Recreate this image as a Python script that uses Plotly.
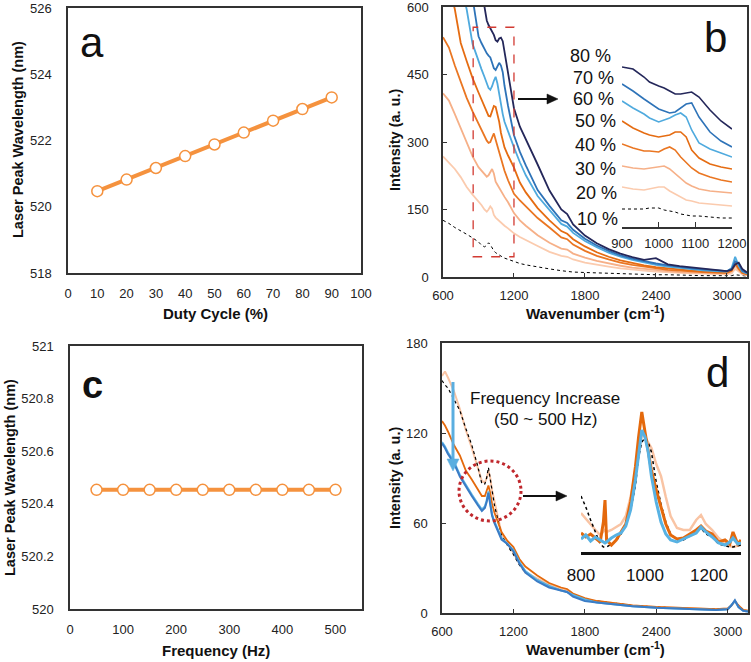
import plotly.graph_objects as go

W, H = 751, 662

# ---------- panel a ----------
duty_cycle = [10, 20, 30, 40, 50, 60, 70, 80, 90]
peak_wl_duty = [520.47, 520.82, 521.17, 521.53, 521.88, 522.24, 522.60, 522.95, 523.30]

# ---------- panel c ----------
frequency = [50, 100, 150, 200, 250, 300, 350, 400, 450, 500]
peak_wl_freq = [520.453] * 10

# ---------- panel b (main) ----------
b_wn = [600, 650, 700, 750, 800, 850, 900, 925, 950, 970, 985, 1000, 1015, 1030, 1045, 1060,
        1075, 1090, 1105, 1120, 1150, 1200, 1250, 1300, 1400, 1500, 1600, 1650, 1700, 1800,
        1900, 2000, 2100, 2200, 2300, 2400, 2500, 2600, 2700, 2800, 2900, 3000, 3040, 3070,
        3100, 3130, 3170]
b_10 = [126, 119, 110, 103, 95, 87, 78, 71, 67, 70, 76, 72, 63, 58, 54, 51, 48, 46, 44, 42, 39,
        34, 30, 27, 22, 18, 14, 12, 11, 10, 9, 8, 7, 7, 6, 5, 5, 4, 4, 3, 3, 3, 3, 5, 4, 2, 2]
b_20 = [268, 255, 240, 222, 200, 183, 168, 160, 150, 145, 150, 157, 152, 138, 132, 128, 124, 120,
        117, 114, 108, 97, 89, 82, 69, 56, 47, 45, 39, 32, 27, 23, 19, 16, 14, 12, 10, 9, 8, 7, 6,
        6, 8, 18, 12, 6, 4]
b_30 = [408, 392, 362, 330, 297, 268, 244, 236, 228, 223, 226, 232, 240, 230, 212, 205, 198, 190,
        183, 178, 166, 142, 126, 114, 93, 76, 63, 61, 52, 43, 36, 30, 25, 21, 18, 15, 13, 11, 10,
        9, 8, 8, 12, 25, 15, 8, 5]
b_40 = [533, 510, 470, 432, 398, 368, 340, 328, 314, 303, 298, 300, 310, 319, 305, 292, 278, 262,
        248, 236, 215, 185, 170, 157, 131, 110, 88, 84, 72, 58, 47, 39, 32, 27, 23, 19, 16, 14, 12,
        11, 10, 9, 14, 30, 18, 9, 6]
b_50 = [680, 650, 595, 520, 480, 442, 410, 395, 380, 368, 358, 357, 368, 380, 378, 362, 345, 320,
        302, 288, 270, 243, 210, 188, 153, 126, 102, 96, 84, 68, 55, 45, 37, 31, 26, 22, 19, 16, 14,
        12, 11, 10, 15, 32, 20, 10, 7]
b_60 = [800, 760, 700, 650, 595, 518, 478, 462, 445, 430, 420, 416, 424, 436, 445, 430, 405, 385,
        362, 345, 323, 288, 255, 226, 180, 148, 118, 112, 98, 80, 66, 54, 45, 38, 32, 27, 23, 20,
        17, 15, 13, 12, 20, 45, 25, 12, 8]
b_70 = [900, 860, 800, 740, 690, 620, 535, 520, 506, 497, 492, 488, 476, 464, 460, 468, 476, 470,
        455, 425, 380, 315, 278, 248, 193, 158, 126, 120, 105, 85, 70, 58, 48, 41, 35, 30, 26, 22,
        19, 17, 15, 13, 18, 35, 30, 14, 9]
b_80 = [1000, 960, 900, 850, 800, 750, 680, 640, 600, 570, 560, 552, 545, 538, 526, 523, 530, 532,
        524, 500, 450, 375, 334, 307, 250, 192, 150, 140, 117, 92, 75, 62, 52, 44, 38, 42, 28, 24,
        21, 18, 15, 13, 16, 28, 32, 18, 10]

# ---------- panel b (inset, arbitrary units) ----------
bi_wn = [900, 930, 960, 975, 1000, 1015, 1030, 1045, 1060, 1075, 1090, 1110, 1140, 1170, 1200]
bi_80 = [160, 158, 150, 145, 141, 139, 136, 133, 133, 134, 135, 130, 117, 106, 98]
bi_70 = [143, 136, 128, 124, 118, 116, 114, 115, 119, 123, 124, 110, 95, 86, 80]
bi_60 = [126, 119, 113, 109, 105, 107, 109, 112, 114, 110, 97, 84, 78, 74, 70]
bi_50 = [106, 99, 94, 92, 90, 91, 92, 95, 95, 90, 77, 69, 63, 60, 58]
bi_40 = [83, 79, 76, 76, 75, 78, 80, 77, 70, 64, 59, 54, 50, 47, 45]
bi_30 = [61, 59, 58, 59, 60, 61, 58, 53, 48, 44, 41, 38, 36, 35, 34]
bi_20 = [40, 38, 37, 38, 40, 40, 36, 33, 30, 27, 26, 24, 23, 22, 21]
bi_10 = [18, 18, 18, 19, 19, 17, 16, 15, 13, 12, 11, 11, 10, 9, 9]
b_labels = ["80 %", "70 %", "60 %", "50 %", "40 %", "30 %", "20 %", "10 %"]

# ---------- panel d (main) ----------
d_wn = [600, 625, 650, 700, 750, 800, 850, 900, 935, 960, 975, 990, 1005, 1020, 1040, 1070, 1100,
        1150, 1200, 1250, 1300, 1400, 1500, 1600, 1650, 1700, 1800, 1900, 2000, 2200, 2400, 2600,
        2800, 2900, 3000, 3030, 3060, 3090, 3130, 3170]
d_peach = [158, 161, 157, 148, 136, 122, 110, 97, 88, 87, 90, 95, 90, 82, 75, 64, 53, 46, 40, 33,
           27, 23, 19, 16, 15, 12, 9, 8, 7, 5, 4, 3.5, 3, 2.5, 3, 5, 8, 5, 2, 1.5]
d_dotted = [155, 152, 150, 143, 135, 123, 112, 98, 86, 86, 90, 97, 90, 80, 72, 62, 52, 45, 39, 32,
            27, 22, 18, 15, 14, 12, 9, 8, 7, 5, 4, 3, 3, 2.5, 3, 5, 8, 5, 2, 1.5]
d_orange = [128, 125, 121, 112, 105, 95, 89, 83, 78, 78, 81, 85, 80, 73, 67, 61, 54, 48, 44, 36,
            31, 25, 20, 17, 16, 13, 10, 8, 7, 5, 4, 3.5, 3, 2.5, 3, 5, 8, 5, 2, 1.5]
d_blue = [113, 110, 106, 100, 91, 84, 78, 72, 68, 70, 74, 80, 73, 65, 60, 54, 49, 46, 41, 33, 27,
          21, 17, 15, 14, 11, 8, 7, 6, 4.5, 3.5, 3, 2.5, 2, 2.5, 5, 8.5, 4, 1.5, 1]
d_lightblue = [114, 111, 107, 101, 92, 85, 79, 73, 69, 71, 75, 81, 74, 66, 61, 55, 50, 46, 42, 34,
               28, 22, 18, 15, 14, 12, 9, 7, 6, 4.5, 3.5, 3, 2.5, 2, 2.5, 5, 8, 4, 1.5, 1]

# ---------- panel d (inset, arbitrary units) ----------
di_wn = [800, 815, 830, 845, 860, 870, 875, 880, 895, 910, 925, 940, 955, 970, 980, 990, 1000,
         1010, 1020, 1035, 1050, 1065, 1080, 1100, 1120, 1140, 1160, 1175, 1190, 1210, 1230, 1250,
         1265, 1275, 1290, 1300]
di_orange = [19, 15, 18, 14, 10, 30, 52, 12, 7, 12, 20, 28, 50, 85, 115, 140, 120, 100, 82, 62, 45,
             28, 17, 13, 14, 18, 22, 26, 21, 18, 10, 12, 8, 20, 8, 12]
di_lightblue = [13, 17, 11, 15, 12, 10, 9, 10, 14, 17, 19, 26, 42, 72, 100, 122, 115, 100, 76, 50,
                30, 18, 12, 10, 13, 16, 19, 25, 20, 15, 9, 7, 10, 14, 8, 9]
di_peach = [39, 33, 27, 22, 17, 20, 22, 20, 22, 25, 28, 36, 55, 80, 100, 117, 115, 110, 104, 88,
            76, 55, 36, 24, 22, 22, 32, 37, 28, 22, 14, 9, 6, 5, 6, 7]
di_dotted = [56, 45, 32, 20, 8, 5, 5, 5, 8, 11, 18, 28, 42, 66, 95, 110, 114, 110, 100, 70, 48, 30,
             18, 12, 12, 16, 22, 24, 18, 15, 8, 6, 5, 5, 6, 7]

# ---------- colours ----------
C_AC = "#f5923e"
C80, C70, C60 = "#24275a", "#2e73b8", "#4faade"
C50, C40 = "#e56c12", "#ea7622"
C30, C20 = "#f6b088", "#fbcbae"
D_PEACH, D_ORANGE, D_BLUE, D_LBLUE = "#f9c4a4", "#e4690c", "#3a7cc6", "#58b2e3"


def px(x):
    return x / W


def py(y):
    return 1 - y / H


fig = go.Figure()

# panel a
fig.add_trace(go.Scatter(x=duty_cycle, y=peak_wl_duty, mode="lines+markers", xaxis="x", yaxis="y",
                         line=dict(color=C_AC, width=4),
                         marker=dict(size=11, color="white", line=dict(color=C_AC, width=1.5))))
# panel c
fig.add_trace(go.Scatter(x=frequency, y=peak_wl_freq, mode="lines+markers", xaxis="x3", yaxis="y3",
                         line=dict(color=C_AC, width=4),
                         marker=dict(size=11, color="white", line=dict(color=C_AC, width=1.5))))

# panel b main
for ys, col, w, dash in [(b_10, "black", 1, "dot"), (b_20, C20, 1.8, "solid"), (b_30, C30, 1.8, "solid"),
                         (b_40, C40, 1.8, "solid"), (b_50, C50, 1.8, "solid"), (b_60, C60, 1.8, "solid"),
                         (b_70, C70, 1.8, "solid"), (b_80, C80, 1.8, "solid")]:
    fig.add_trace(go.Scatter(x=b_wn, y=ys, mode="lines", xaxis="x2", yaxis="y2",
                             line=dict(color=col, width=w, dash=dash)))
# panel b inset
for ys, col, w, dash in [(bi_10, "black", 1, "dot"), (bi_20, C20, 1.6, "solid"), (bi_30, C30, 1.6, "solid"),
                         (bi_40, C40, 1.6, "solid"), (bi_50, C50, 1.6, "solid"), (bi_60, C60, 1.6, "solid"),
                         (bi_70, C70, 1.6, "solid"), (bi_80, C80, 1.6, "solid")]:
    fig.add_trace(go.Scatter(x=bi_wn, y=ys, mode="lines", xaxis="x5", yaxis="y5",
                             line=dict(color=col, width=w, dash=dash)))

# panel d main
for ys, col, w, dash in [(d_peach, D_PEACH, 2, "solid"), (d_dotted, "black", 1.2, "dot"),
                         (d_orange, D_ORANGE, 1.8, "solid"), (d_lightblue, D_LBLUE, 2, "solid"),
                         (d_blue, D_BLUE, 2, "solid")]:
    fig.add_trace(go.Scatter(x=d_wn, y=ys, mode="lines", xaxis="x4", yaxis="y4",
                             line=dict(color=col, width=w, dash=dash)))
# panel d inset
for ys, col, w, dash in [(di_peach, D_PEACH, 2.5, "solid"), (di_dotted, "black", 1.5, "dot"),
                         (di_orange, D_ORANGE, 3, "solid"), (di_lightblue, D_LBLUE, 3, "solid")]:
    fig.add_trace(go.Scatter(x=di_wn, y=ys, mode="lines", xaxis="x6", yaxis="y6",
                             line=dict(color=col, width=w, dash=dash)))

TF = "Arial, Liberation Sans, sans-serif"
TICKF = dict(family=TF, size=13, color="#222")
box = dict(showline=True, mirror=True, linecolor="#333", linewidth=1.6, showgrid=False,
           zeroline=False, tickfont=TICKF, automargin=False, tickcolor="#333",
           ticklabeloverflow="allow")

fig.update_layout(
    template="none",
    width=W, height=H, margin=dict(l=0, r=0, t=0, b=0, pad=0), showlegend=False,
    paper_bgcolor="white", plot_bgcolor="white", autosize=False, hovermode=False,
    font=dict(family=TF, color="#111"),
    xaxis=dict(domain=[px(68), px(361)], anchor="y", range=[0, 100], dtick=10, ticks="",
               ticklabelstandoff=8, **box),
    yaxis=dict(domain=[py(273), py(8)], anchor="x", range=[518, 526], dtick=2, ticks="",
               ticklabelstandoff=12, **box),
    xaxis2=dict(domain=[px(443), px(747)], anchor="y2", range=[600, 3170],
                tickvals=[600, 1200, 1800, 2400, 3000], ticks="inside", ticklen=4,
                ticklabelstandoff=6, **box),
    yaxis2=dict(domain=[py(277), py(7)], anchor="x2", range=[0, 600], dtick=150,
                ticks="inside", ticklen=4, ticklabelstandoff=10, **box),
    xaxis3=dict(domain=[px(70), px(362)], anchor="y3", range=[0, 550], dtick=100, ticks="",
                ticklabelstandoff=8, **box),
    yaxis3=dict(domain=[py(609), py(346)], anchor="x3", range=[520, 521], dtick=0.2, ticks="",
                ticklabelstandoff=12, tickformat=".1~f", **box),
    xaxis4=dict(domain=[px(442), px(748)], anchor="y4", range=[600, 3170],
                tickvals=[600, 1200, 1800, 2400, 3000], ticks="inside", ticklen=4,
                ticklabelstandoff=6, **box),
    yaxis4=dict(domain=[py(613), py(343)], anchor="x4", range=[0, 180], dtick=60,
                ticks="inside", ticklen=4, ticklabelstandoff=10, **box),
    xaxis5=dict(domain=[px(622), px(732)], anchor="y5", range=[900, 1200], dtick=100,
                showline=True, linecolor="#333", linewidth=1.5, ticks="inside", ticklen=5,
                tickcolor="#333", showgrid=False, zeroline=False, tickfont=TICKF,
                ticklabelstandoff=4, automargin=False, ticklabeloverflow="allow"),
    yaxis5=dict(domain=[py(227), py(60)], anchor="x5", range=[0, 167], visible=False,
                automargin=False),
    xaxis6=dict(domain=[px(581), px(741)], anchor="y6", range=[800, 1300],
                tickvals=[800, 1000, 1200], showline=True, linecolor="#111", linewidth=2.5,
                ticks="", showgrid=False, zeroline=False, automargin=False,
                tickfont=dict(family=TF, size=17, color="#111"),
                ticklabelstandoff=6, ticklabeloverflow="allow"),
    yaxis6=dict(domain=[py(552), py(405)], anchor="x6", range=[0, 147], visible=False,
                automargin=False),
)


def arrow_shapes(x0, y0, x1, y1, color, width, head_len, head_half):
    # straight arrow (horizontal or vertical) drawn with a line and a filled triangle
    shp = []
    if y0 == y1:
        sx = x1 - head_len
        shp.append(dict(type="line", xref="paper", yref="paper", x0=px(x0), y0=py(y0), x1=px(sx), y1=py(y1),
                        line=dict(color=color, width=width)))
        path = "M %f,%f L %f,%f L %f,%f Z" % (px(sx), py(y1 - head_half), px(x1), py(y1),
                                              px(sx), py(y1 + head_half))
    else:
        sy = y1 - head_len
        shp.append(dict(type="line", xref="paper", yref="paper", x0=px(x0), y0=py(y0), x1=px(x1), y1=py(sy),
                        line=dict(color=color, width=width)))
        path = "M %f,%f L %f,%f L %f,%f Z" % (px(x1 - head_half), py(sy), px(x1), py(y1),
                                              px(x1 + head_half), py(sy))
    shp.append(dict(type="path", xref="paper", yref="paper", path=path, fillcolor=color,
                    line=dict(color=color, width=0.5)))
    return shp


shapes = [
    dict(type="rect", xref="x2", yref="y2", x0=855, x1=1200, y0=45, y1=555,
         line=dict(color="#d23a32", width=1.3, dash="dash")),
    dict(type="circle", xref="paper", yref="paper", x0=px(459), x1=px(521), y0=py(521), y1=py(461),
         line=dict(color="#c0282d", width=3, dash="dot")),
]
shapes += arrow_shapes(518, 99, 558, 99, "#111", 2, 11, 5)
shapes += arrow_shapes(523, 496, 567, 496, "#111", 2, 11, 5)
shapes += arrow_shapes(453, 382, 453, 471, "#5aaee0", 3, 12, 6)
fig.update_layout(shapes=shapes)

anns = []


def text(x, y, s, size, bold=False, angle=0, xanchor="center", color="#111"):
    anns.append(dict(x=px(x), y=py(y), xref="paper", yref="paper", text=("<b>%s</b>" % s) if bold else s,
                     showarrow=False, xanchor=xanchor, yanchor="middle", textangle=angle,
                     font=dict(family=TF, size=size, color=color)))


# panel letters
text(92, 42, "a", 42)
text(715, 37, "b", 42)
text(92, 385, "c", 38, bold=True)
text(717, 372, "d", 42)

# axis titles
text(18, 140, "Laser Peak Wavelength (nm)", 14.5, bold=True, angle=-90)
text(215, 313, "Duty Cycle (%)", 15, bold=True)
text(10, 478, "Laser Peak Wavelength (nm)", 14.5, bold=True, angle=-90)
text(216, 650, "Frequency (Hz)", 15, bold=True)
text(395, 140, "Intensity (a. u.)", 14.5, bold=True, angle=-90)
text(595, 312, "Wavenumber (cm<sup>-1</sup>)", 15, bold=True)
text(395, 478, "Intensity (a. u.)", 14.5, bold=True, angle=-90)
text(595, 648, "Wavenumber (cm<sup>-1</sup>)", 15, bold=True)

# percentage labels (panel b)
lab_y = [56, 78, 99, 121, 145, 169, 193, 219]
lab_x = [613, 616, 616, 618, 618, 618, 619, 620]
for s, xx, yy in zip(b_labels, lab_x, lab_y):
    text(xx, yy, s, 18, xanchor="right")

# frequency text (panel d)
text(545, 398, "Frequency Increase", 17)
text(545, 419, "(50 ~ 500 Hz)", 17)

fig.update_layout(annotations=anns)

fig.write_html("out.html", config={"displayModeBar": False, "staticPlot": True})

# remove the default page margin so the figure sits at the window's top-left corner
with open("out.html", encoding="utf-8") as f:
    page = f.read()
page = page.replace("<head>", "<head><style>html,body{margin:0;padding:0;overflow:hidden;}</style>", 1)
with open("out.html", "w", encoding="utf-8") as f:
    f.write(page)
